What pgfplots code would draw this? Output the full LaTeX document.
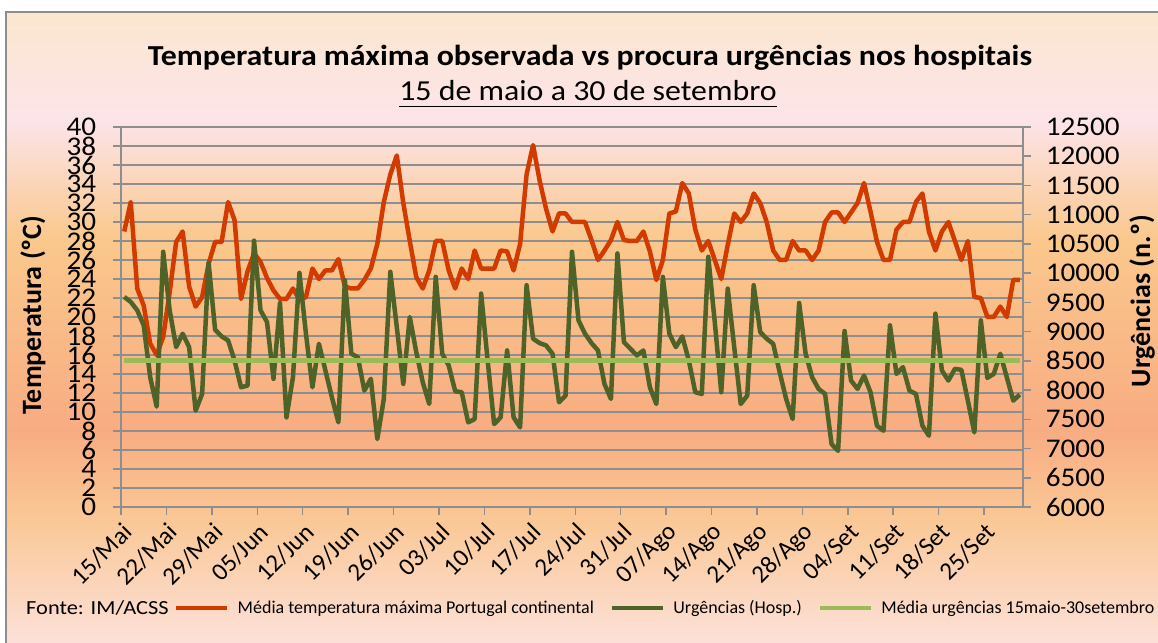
\documentclass[border=0pt]{standalone}
\usepackage{fontspec}
\setmainfont{Carlito}
\usepackage{pgfplots}
\pgfplotsset{compat=1.18}
\usepackage{pgfplotstable}

\definecolor{tred}{HTML}{D13B00}
\definecolor{ugreen}{HTML}{4F6228}
\definecolor{mgreen}{HTML}{9BBB59}
\definecolor{gridgray}{HTML}{8E8E8E}
\definecolor{bgA}{HTML}{FBE7CE}
\definecolor{bgB}{HTML}{FCE4EA}
\definecolor{bgC}{HTML}{FAC88C}
\definecolor{bgD}{HTML}{F8AC82}
\definecolor{bgE}{HTML}{FAC896}
\definecolor{bgF}{HTML}{FCE0D8}

\pgfplotstableread{
d t
0 29.0
1 32.1
2 23.0
3 21.2
4 17.2
5 16.0
6 17.9
7 22.6
8 27.9
9 29.0
10 23.2
11 21.1
12 22.1
13 25.6
14 27.9
15 27.9
16 32.1
17 30.2
18 21.9
19 24.8
20 26.7
21 25.8
22 24.1
23 22.8
24 21.9
25 21.9
26 23.0
27 21.8
28 22.1
29 25.1
30 24.0
31 24.9
32 24.9
33 26.1
34 23.2
35 23.0
36 23.0
37 23.9
38 25.1
39 27.7
40 32.1
41 35.0
42 37.0
43 32.0
44 28.0
45 24.2
46 23.0
47 24.9
48 28.0
49 28.0
50 24.9
51 23.0
52 25.1
53 24.0
54 27.0
55 25.1
56 25.1
57 25.1
58 27.0
59 26.9
60 24.9
61 27.7
62 35.0
63 38.1
64 34.4
65 31.4
66 29.0
67 30.9
68 30.9
69 30.0
70 30.0
71 30.0
72 28.1
73 26.0
74 27.0
75 28.1
76 30.0
77 28.1
78 28.0
79 28.0
80 29.0
81 26.9
82 23.9
83 26.0
84 30.9
85 31.1
86 34.1
87 33.0
88 29.2
89 27.0
90 28.0
91 26.0
92 24.0
93 27.6
94 30.9
95 30.0
96 30.9
97 33.0
98 32.0
99 30.0
100 27.0
101 26.0
102 26.0
103 28.0
104 27.0
105 27.0
106 26.0
107 27.0
108 30.0
109 31.0
110 31.0
111 30.0
112 31.0
113 32.0
114 34.1
115 31.1
116 27.9
117 26.0
118 26.0
119 29.2
120 30.0
121 30.0
122 32.1
123 33.0
124 29.0
125 27.0
126 29.0
127 30.0
128 28.0
129 26.0
130 28.0
131 22.1
132 22.0
133 20.0
134 20.0
135 21.1
136 20.0
137 23.9
138 23.9
}\temptable

\pgfplotstableread{
d u
0 9593
1 9508
2 9365
3 9107
4 8220
5 7717
6 10366
7 9365
8 8735
9 8964
10 8735
11 7648
12 7934
13 10177
14 9033
15 8918
16 8850
17 8506
18 8048
19 8077
20 10555
21 9365
22 9164
23 8192
24 9490
25 7533
26 8220
27 10005
28 8964
29 8048
30 8792
31 8335
32 7877
33 7448
34 9879
35 8621
36 8563
37 7991
38 8192
39 7162
40 7848
41 10023
42 9078
43 8106
44 9250
45 8650
46 8134
47 7762
48 9937
49 8621
50 8420
51 7980
52 7963
53 7448
54 7505
55 9651
56 8506
57 7419
58 7533
59 8678
60 7533
61 7362
62 9794
63 8878
64 8804
65 8764
66 8621
67 7791
68 7905
69 10366
70 9193
71 8964
72 8804
73 8678
74 8106
75 7848
76 10337
77 8821
78 8707
79 8592
80 8678
81 8048
82 7762
83 9937
84 8964
85 8735
86 8918
87 8506
88 7963
89 7934
90 10280
91 9165
92 7963
93 9736
94 8735
95 7762
96 7905
97 9794
98 8993
99 8878
100 8792
101 8306
102 7848
103 7505
104 9490
105 8621
106 8220
107 8020
108 7934
109 7076
110 6961
111 9010
112 8163
113 8020
114 8249
115 7963
116 7390
117 7305
118 9107
119 8277
120 8392
121 7991
122 7934
123 7390
124 7219
125 9307
126 8335
127 8163
128 8363
129 8346
130 7820
131 7276
132 9193
133 8209
134 8277
135 8621
136 8220
137 7820
138 7923
}\urgtable

\begin{document}
\begin{tikzpicture}[x=1pt,y=1pt]
\useasboundingbox (0,0) rectangle (1158,642);
\fill[white] (0,0) rectangle (1158,642);
% background gradient
\fill[top color=bgA, bottom color=bgB] (6,522) rectangle (1158,630);
\fill[top color=bgB, bottom color=bgC] (6,402) rectangle (1158,522.5);
\fill[top color=bgC, bottom color=bgD] (6,212) rectangle (1158,402.5);
\fill[top color=bgD, bottom color=bgE] (6,122) rectangle (1158,212.5);
\fill[top color=bgE, bottom color=bgF] (6,0) rectangle (1158,122.5);
\draw[gridgray, line width=1.5pt] (6,-5) -- (6,630) -- (1165,630);

% titles
\node[font=\bfseries\fontsize{29}{29}\selectfont, anchor=base, inner sep=0pt, xscale=1.1] at (590,576) {Temperatura máxima observada vs procura urgências nos hospitais};
\node[font=\fontsize{29}{29}\selectfont, anchor=base, inner sep=0pt, xscale=1.1] (sub) at (588,541) {15 de maio a 30 de setembro};
\draw[black, line width=1.8pt] ([yshift=-5.5pt]sub.base west) -- ([yshift=-5.5pt]sub.base east);

% axis labels
\node[rotate=90, font=\bfseries\fontsize{28}{28}\selectfont, inner sep=0pt] at (33,327) {Temperatura (ºC)};
\node[rotate=90, font=\bfseries\fontsize{28}{28}\selectfont, inner sep=0pt] at (1142,341) {Urgências (n.º)};

% source
\node[font=\fontsize{20}{20}\selectfont, anchor=west, inner sep=0pt, xscale=1.12] at (26,34) {Fonte: IM/ACSS};

\begin{axis}[
  at={(121pt,135pt)}, anchor=south west,
  scale only axis, width=902pt, height=380pt,
  xmin=-0.5, xmax=138.5, ymin=0, ymax=40,
  ytick={0,2,...,40},
  xtick={-0.5,6.5,...,132.5},
  xticklabels={15/Mai,22/Mai,29/Mai,05/Jun,12/Jun,19/Jun,26/Jun,03/Jul,10/Jul,17/Jul,24/Jul,31/Jul,07/Ago,14/Ago,21/Ago,28/Ago,04/Set,11/Set,18/Set,25/Set},
  axis x line*=bottom, axis y line*=left,
  axis line style={gridgray, line width=1.5pt, -},
  ymajorgrids, major grid style={gridgray, line width=1.5pt},
  tick style={gridgray, line width=1.5pt},
  tick align=outside, major tick length=8pt,
  yticklabel style={font=\fontsize{27}{27}\selectfont, anchor=east, xshift=-13pt, xscale=1.08, /pgf/number format/assume math mode=true},
  xticklabel style={font=\fontsize{25}{25}\selectfont, inner sep=0pt, xshift=7pt, yshift=-13pt, rotate=45, anchor=east},
]
\addplot[tred, line width=4.5pt, line join=round] table[x=d, y=t] {\temptable};
\end{axis}

\begin{axis}[
  at={(121pt,135pt)}, anchor=south west,
  scale only axis, width=902pt, height=380pt,
  xmin=-0.5, xmax=138.5, ymin=6000, ymax=12500,
  ytick={6000,6500,...,12500},
  scaled y ticks=false,
  axis y line*=right, axis x line=none,
  axis line style={gridgray, line width=1.5pt, -},
  tick style={gridgray, line width=1.5pt},
  tick align=outside, major tick length=8pt,
  yticklabel style={font=\fontsize{27}{27}\selectfont, anchor=west, xshift=11pt, xscale=1.08, /pgf/number format/1000 sep={}, /pgf/number format/assume math mode=true},
  legend style={at={(0.0588,-0.2658)}, anchor=west, draw=none, fill=none, inner sep=0pt, nodes={inner sep=0pt}, legend columns=-1, font=\fontsize{18}{18}\selectfont, /tikz/every odd column/.append style={column sep=8pt}, /tikz/every even column/.append style={column sep=16pt}},
  legend image code/.code={\draw[#1] (0pt,0pt) -- (51pt,0pt);},
]
\addlegendimage{tred, line width=4.5pt}
\addlegendentry{Média temperatura máxima Portugal continental}
\addplot[ugreen, line width=4.5pt, line join=round] table[x=d, y=u] {\urgtable};
\addlegendentry{Urgências (Hosp.)}
\addplot[mgreen, line width=4.5pt] coordinates {(0,8510) (138,8510)};
\addlegendentry{Média urgências 15maio-30setembro}
\end{axis}
\end{tikzpicture}
\end{document}
